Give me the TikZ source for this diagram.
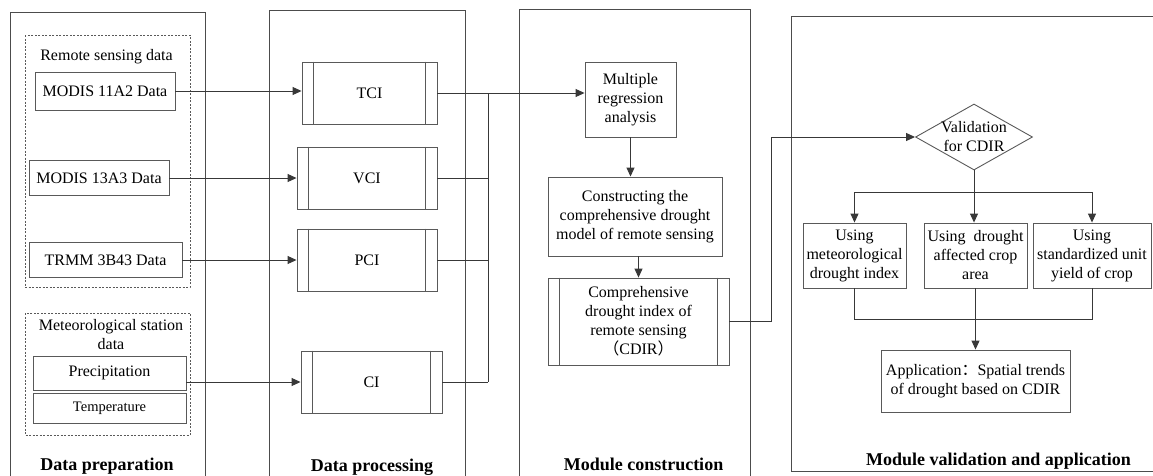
\documentclass[tikz,border=0pt]{standalone}
\usepackage{fontspec}
\setmainfont{Liberation Serif}
\newfontfamily\cjk{Noto Sans CJK SC}
\usetikzlibrary{shapes.geometric,arrows.meta}

\tikzset{
  databox/.style={draw=black!65, line width=0.9pt, rectangle, align=center, inner sep=2pt,
    font=\fontsize{16}{19}\selectfont},
  procbox/.style={databox},
  grp/.style={draw=black!65, line width=0.6pt, dash pattern=on 2pt off 1.5pt},
  panel/.style={draw=black!70, line width=0.9pt},
  title/.style={font=\bfseries\fontsize{18}{21}\selectfont, anchor=base},
  label/.style={font=\fontsize{16}{19}\selectfont, align=center},
  link/.style={draw=black!78, line width=1pt},
  arr/.style={link, -{Triangle[length=9pt,width=8pt]}}
}

\begin{document}
\begin{tikzpicture}[x=1pt,y=-1pt]
\useasboundingbox (0,0) rectangle (1153,475);

% the four panels
\draw[panel] (10,12) rectangle (205,480);
\draw[panel] (269,10) rectangle (465,480);
\draw[panel] (519,9) rectangle (750,480);
\draw[panel] (791,16) rectangle (1156,471);

\node[title] (t1) at (107,470) {Data preparation};
\node[title] (t2) at (372,471) {Data processing};
\node[title] (t3) at (643.5,470) {Module construction};
\node[title] (t4) at (998.5,465) {Module validation and application};

% data preparation
\draw[grp] (25,35) rectangle (190,287);
\draw[grp] (25,313) rectangle (190,435);
\node[label, anchor=base] (rslab) at (106.5,60) {Remote sensing data};
\node[label] (melab) at (111,335) {Meteorological station\\data};

\node[databox, minimum width=140pt, minimum height=38pt] (m11) at (105,91) {MODIS 11A2 Data};
\node[databox, minimum width=140pt, minimum height=35pt] (m13) at (99,178) {MODIS 13A3 Data};
\node[databox, minimum width=153pt, minimum height=35pt] (trmm) at (105.5,260) {TRMM 3B43 Data};
\node[databox, minimum width=153pt, minimum height=34pt] (prec) at (109.5,373) {Precipitation};
\node[databox, minimum width=153pt, minimum height=30pt, font=\fontsize{14.5}{17}\selectfont] (temp) at (109.5,408) {Temperature};

% data processing
\node[procbox, minimum width=135pt, minimum height=62pt] (tci) at (369.5,93) {TCI};
\node[procbox, minimum width=140pt, minimum height=62pt] (vci) at (367,178) {VCI};
\node[procbox, minimum width=140pt, minimum height=62pt] (pci) at (367,260) {PCI};
\node[procbox, minimum width=141pt, minimum height=62pt] (ci) at (371.5,382) {CI};

% module construction
\node[databox, minimum width=91pt, minimum height=75pt] (mra) at (630.5,99.5) {Multiple\\regression\\analysis};
\node[databox, minimum width=174pt, minimum height=79pt] (cons) at (635,216.5) {Constructing the\\comprehensive drought\\model of remote sensing};
\node[procbox, minimum width=181pt, minimum height=87pt] (cdir) at (638.5,321.5) {Comprehensive\\drought index of\\remote sensing\\{\cjk （}CDIR{\cjk ）}};

% side bars of the index boxes
\foreach \n in {tci,vci,pci,ci,cdir}
{
	\draw[draw=black!65, line width=0.9pt] ([xshift=12pt]\n.north west) -- ([xshift=12pt]\n.south west);
	\draw[draw=black!65, line width=0.9pt] ([xshift=-12pt]\n.north east) -- ([xshift=-12pt]\n.south east);
}

% validation and application
\node[diamond, draw=black!65, line width=0.9pt, shape aspect=1.8, inner sep=-8pt, minimum width=117pt, minimum height=66pt,
  align=center, font=\fontsize{16}{19}\selectfont] (val) at (974,137) {Validation\\for CDIR};
\node[databox, minimum width=103pt, minimum height=65pt] (u1) at (854.5,255.5) {Using\\meteorological\\drought index};
\node[databox, minimum width=103pt, minimum height=65pt] (u2) at (975.5,255.5) {Using\ \ drought\\affected crop\\area};
\node[databox, minimum width=118pt, minimum height=65pt] (u3) at (1092,255.5) {Using\\standardized unit\\yield of crop};
\node[databox, minimum width=189pt, minimum height=62pt] (app) at (975.5,381) {Application{\cjk ：}Spatial trends\\of drought based on CDIR};

% inputs
\draw[arr] (m11.east) -- (m11.east -| tci.west);
\draw[arr] (m13.east) -- (m13.east -| vci.west);
\draw[arr] (trmm.east) -- (trmm.east -| pci.west);
\draw[arr] (ci.west -| prec.east) -- (ci.west);

% indices to regression
\coordinate (bus) at (488,93);
\draw[link] (tci.east) -- (bus);
\foreach \n in {vci,pci,ci}
	\draw[link] (\n.east) -- (\n.east -| bus);
\draw[link] (bus) -- (bus |- ci.east);
\draw[arr] (bus) -- (bus -| mra.west);

\draw[arr] (mra.south) -- (mra.south |- cons.north);
\draw[arr] (cdir.north |- cons.south) -- (cdir.north);
\draw[arr] (cdir.east) -- ++(42,0) |- (val.west);

\draw[arr] (val.south) -- (val.south |- u2.north);
\draw[arr] (val.south) ++(0,22) -| (u1.north);
\draw[arr] (val.south) ++(0,22) -| (u3.north);
\draw[link] (u1.south) -- ++(0,31) -| (u3.south);
\draw[arr] (u2.south) -- (app.north);
\end{tikzpicture}
\end{document}
